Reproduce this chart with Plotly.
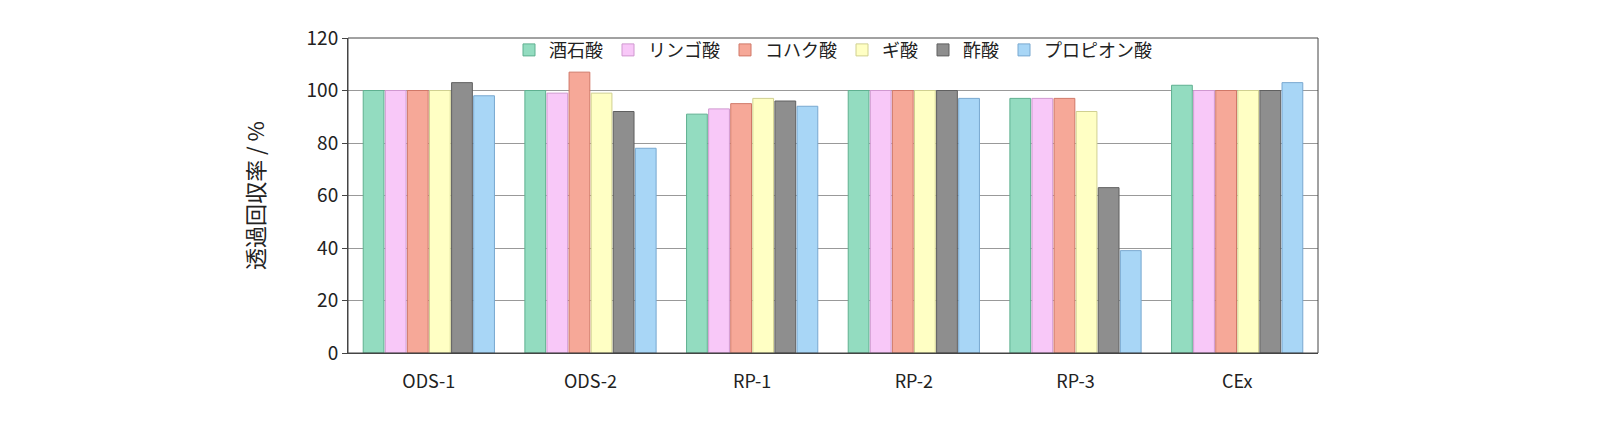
import plotly.graph_objects as go

categories = ["ODS-1", "ODS-2", "RP-1", "RP-2", "RP-3", "CEx"]
series_names = ["酒石酸", "リンゴ酸", "コハク酸", "ギ酸", "酢酸", "プロピオン酸"]
values = {
    "酒石酸": [100, 100, 91, 100, 97, 102],
    "リンゴ酸": [100, 99, 93, 100, 97, 100],
    "コハク酸": [100, 107, 95, 100, 97, 100],
    "ギ酸": [100, 99, 97, 100, 92, 100],
    "酢酸": [103, 92, 96, 100, 63, 100],
    "プロピオン酸": [98, 78, 94, 97, 39, 103],
}
colors = ["#93dcc0", "#f8c8f8", "#f6a898", "#ffffc4", "#8e8e8e", "#a8d6f6"]
edges = ["#5fb090", "#d098d0", "#d07868", "#d0d090", "#606060", "#78a8d0"]

fig = go.Figure()
for name, c, e in zip(series_names, colors, edges):
    fig.add_trace(go.Bar(
        x=categories, y=values[name], name=name,
        marker=dict(color=c, line=dict(color=e, width=1)),
    ))

fig.update_layout(
    width=1600, height=433,
    paper_bgcolor="white", plot_bgcolor="white",
    margin=dict(l=340, r=290, t=30, b=88),
    font=dict(family="Noto Sans CJK JP", size=18, color="#222"),
    barmode="group", bargap=0.18, bargroupgap=0.06,
    showlegend=True,
    legend=dict(orientation="h", x=0.5, xanchor="center", y=1.02, yanchor="top",
                bgcolor="rgba(0,0,0,0)", font=dict(size=18)),
    yaxis=dict(range=[0, 120], dtick=20, showgrid=True, gridcolor="#999",
               showline=True, linecolor="#444", ticks="outside",
               tickfont=dict(size=19),
               title=dict(text="透過回収率 / %", standoff=35)),
    xaxis=dict(showline=True, linecolor="#444", tickfont=dict(size=18),
               ticklabelstandoff=12),
)
fig.add_shape(type="rect", xref="paper", yref="paper", x0=0, y0=0, x1=1, y1=1,
              line=dict(color="#444", width=1))
fig.write_html("out.html")
